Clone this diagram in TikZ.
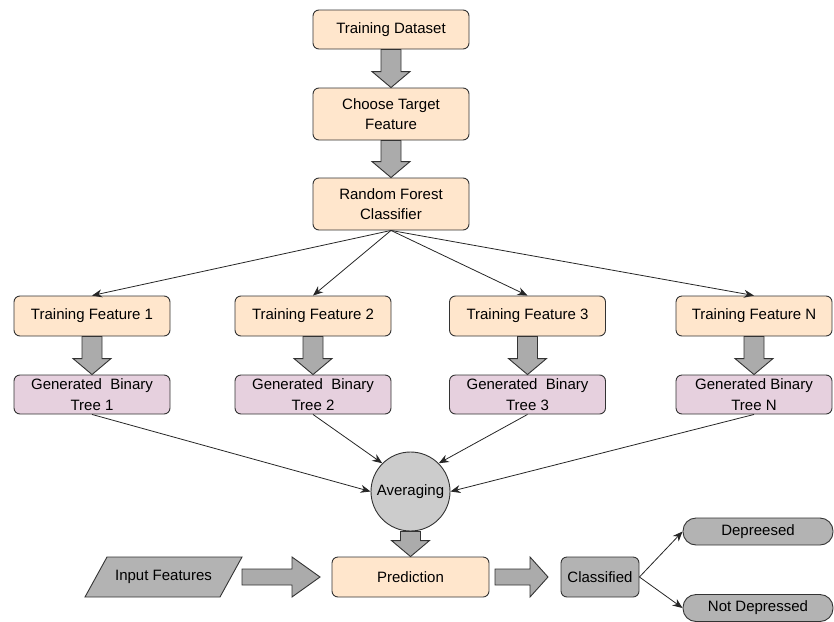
\documentclass[tikz,border=0pt]{standalone}
\usepackage{fontspec}
\setmainfont{Liberation Sans}
\usetikzlibrary{calc,arrows.meta}
\definecolor{peach}{HTML}{FFE6CC}
\definecolor{lilac}{HTML}{E6D0DE}
\definecolor{blk}{HTML}{ABABAB}
\definecolor{circ}{HTML}{CCCCCC}
\definecolor{clsf}{HTML}{B3B3B3}
\definecolor{strk}{HTML}{333333}
\newcommand\blockdown[2]{%
  \path[blockarrow] let \p1=#1, \p2=#2 in
    ({\x1-10pt},\y1) -- ({\x1+10pt},\y1) -- ({\x1+10pt},{\y2+16pt}) -- ({\x1+19pt},{\y2+16pt})
    -- (\x1,\y2) -- ({\x1-19pt},{\y2+16pt}) -- ({\x1-10pt},{\y2+16pt}) -- cycle;}
\newcommand\blockright[3]{%
  \path[blockarrow] let \p1=#1, \p2=#2 in
    (\x1,{\y1+8pt}) -- (\x1,{\y1-8pt}) -- ({\x2-#3},{\y1-8pt}) -- ({\x2-#3},{\y1-20pt})
    -- (\x2,\y1) -- ({\x2-#3},{\y1+20pt}) -- ({\x2-#3},{\y1+8pt}) -- cycle;}
\tikzset{
  base/.style={draw=strk, line width=0.9pt, rounded corners=6pt, font=\fontsize{15}{20.5}\selectfont, align=center, text=black, inner sep=2pt},
  peachbox/.style={base, fill=peach, minimum width=156pt},
  treebox/.style={base, fill=lilac, minimum width=156pt, minimum height=39pt},
  blockarrow/.style={draw=strk, line width=0.9pt, fill=blk},
  conn/.style={draw=black!85, line width=0.8pt, -{Stealth[length=10pt,width=8pt]}},
}
\begin{document}
\begin{tikzpicture}[x=1pt,y=-1pt]
\useasboundingbox (0,0) rectangle (834,621);
% top chain
\node[peachbox, minimum height=39pt] (ds) at (391,29.5) {Training Dataset};
\node[peachbox, minimum height=52pt] (ct) at (391,114) {Choose Target\\Feature};
\node[peachbox, minimum height=52pt] (rf) at (391,204) {Random Forest\\Classifier};
\blockdown{(ds.south)}{(ct.north)}
\blockdown{(ct.south)}{(rf.north)}
% training features
\node[peachbox, minimum height=40pt] (tf1) at (92,316) {Training Feature 1};
\node[peachbox, minimum height=40pt] (tf2) at (313,316) {Training Feature 2};
\node[peachbox, minimum height=40pt] (tf3) at (527.5,316) {Training Feature 3};
\node[peachbox, minimum height=40pt] (tfn) at (754,316) {Training Feature N};
\foreach \t in {tf1,tf2,tf3,tfn} \draw[conn] (rf.south) -- (\t.north);
% trees
\node[treebox] (gb1) at (92,394.5) {Generated\ \ Binary\\Tree 1};
\node[treebox] (gb2) at (313,394.5) {Generated\ \ Binary\\Tree 2};
\node[treebox] (gb3) at (527.5,394.5) {Generated\ \ Binary\\Tree 3};
\node[treebox] (gbn) at (754,394.5) {Generated Binary\\Tree N};
\blockdown{(tf1.south)}{(gb1.north)}
\blockdown{(tf2.south)}{(gb2.north)}
\blockdown{(tf3.south)}{(gb3.north)}
\blockdown{(tfn.south)}{(gbn.north)}
% averaging
\node[base, circle, fill=circ, minimum size=79pt, inner sep=0pt] (avg) at (410.5,491.5) {Averaging};
\draw[conn] (gb1.south) -- (avg.west);
\draw[conn] (gb2.south) -- (avg.north west);
\draw[conn] (gb3.south) -- (avg.north east);
\draw[conn] (gbn.south) -- (avg.east);
% prediction row
\node[peachbox, minimum width=157pt, minimum height=40pt] (pred) at (410.5,577) {Prediction};
\blockdown{(avg.south)}{(pred.north)}
\path[draw=strk, line width=0.9pt, fill=clsf] (107,557) -- (242,557) -- (220,597) -- (85,597) -- cycle;
\node[font=\fontsize{15}{20.5}\selectfont, text=black] (inp) at (163.5,577) {Input Features};
\coordinate (a1s) at (242,577);
\coordinate (a1e) at (320,577);
\blockright{(a1s)}{(a1e)}{28pt}
\node[base, fill=clsf, minimum width=78pt, minimum height=40pt, inner sep=1pt] (cls) at (600,577) {Classified};
\coordinate (a2s) at (495,577);
\coordinate (a2e) at (548,577);
\blockright{(a2s)}{(a2e)}{18pt}
\node[base, fill=clsf, minimum width=150pt, minimum height=27pt, rounded corners=13pt] (dep) at (758,531.5) {Depreesed};
\node[base, fill=clsf, minimum width=150pt, minimum height=27pt, rounded corners=13pt] (nd) at (758,608) {Not Depressed};
\draw[conn] (cls.east) -- (dep.west);
\draw[conn] (cls.east) -- (nd.west);
\end{tikzpicture}
\end{document}
